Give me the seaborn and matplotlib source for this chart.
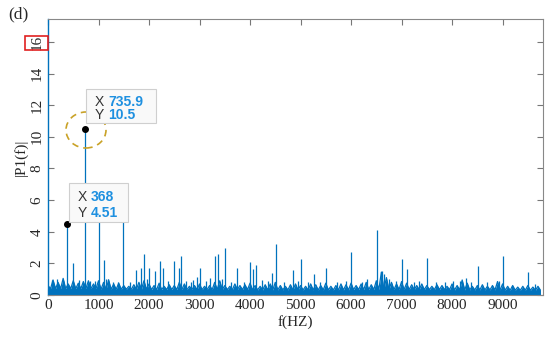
import numpy as np
import seaborn as sns
import matplotlib.pyplot as plt
from matplotlib.patches import Rectangle, Ellipse

# Spectrum
# noise floor: top of the fuzz in each 100 Hz bin, and the solid base level per 1000 Hz
fuzz_top = [
    0.6, 0.95, 0.8, 1.05, 0.7, 0.9, 0.75, 0.85, 0.9, 0.7,
    0.9, 0.8, 0.95, 0.7, 0.75, 0.6, 0.55, 0.65, 0.8, 0.9,
    0.7, 0.6, 0.75, 0.55, 0.65, 0.6, 0.8, 0.7, 0.55, 0.6,
    0.7, 0.55, 0.6, 0.8, 0.9, 0.6, 0.55, 0.7, 0.6, 0.65,
    0.75, 0.6, 0.55, 0.65, 0.7, 0.8, 0.6, 0.55, 0.65, 0.7,
    0.6, 0.55, 0.7, 0.65, 0.6, 0.75, 0.55, 0.6, 0.7, 0.65,
    0.75, 0.6, 0.7, 0.8, 0.65, 0.9, 1.45, 1.1, 0.8, 0.7,
    0.85, 0.75, 0.65, 0.6, 0.7, 0.6, 0.55, 0.65, 0.6, 0.55,
    0.7, 0.6, 0.95, 0.75, 0.55, 0.6, 0.65, 0.55, 0.6, 0.85,
    0.7, 0.55, 0.6, 0.5, 0.55, 0.6, 0.5, 0.55,
]
base_level = [0.4, 0.36, 0.34, 0.34, 0.32, 0.32, 0.34, 0.34, 0.32, 0.3]

# spikes above the floor
peak_freq = [368, 500, 735.9, 1000, 1110, 1180, 1490, 1752, 1850, 1900, 2003, 2115,
             2213, 2270, 2500, 2592, 2642, 2741, 2872, 2951, 3004, 3215, 3316, 3368,
             3508, 3745, 4006, 4058, 4118, 4433, 4506, 4848, 5013, 5263, 5508, 6004,
             6510, 6614, 7009, 7109, 7504, 8010, 8274, 8504, 9006, 9506]
peak_amp = [4.51, 2.0, 10.5, 5.5, 2.2, 1.0, 4.6, 1.6, 1.7, 2.6, 1.7, 1.5,
            2.15, 1.7, 2.15, 1.7, 2.47, 0.9, 0.95, 1.16, 1.7, 1.1, 2.45, 2.6,
            3.0, 1.7, 2.1, 1.65, 1.9, 1.4, 3.2, 1.55, 2.28, 1.3, 1.7, 2.7,
            4.1, 1.5, 2.3, 1.65, 2.36, 0.9, 1.1, 1.86, 2.47, 1.43]

# smaller spikes sticking out of the fuzz
minor_freq = [85, 184, 290, 606, 830, 930, 1146, 1290, 1380, 1620, 1960, 2380,
              2830, 3120, 3450, 3620, 3880, 4240, 4350, 4680, 4950, 5140, 5380,
              5720, 5890, 6218, 6310, 6660, 6745, 6880, 7240, 7350, 7680, 7850,
              8150, 8380, 8700, 8935, 9196, 9650]
minor_amp = [0.95, 1.0, 0.9, 0.95, 0.9, 0.9, 1.0, 0.8, 0.85, 0.8, 1.0, 0.9,
             0.85, 0.9, 1.0, 0.85, 0.8, 0.95, 0.9, 0.85, 0.9, 0.8, 0.85,
             0.8, 0.9, 0.85, 1.0, 1.3, 1.0, 0.9, 0.85, 0.9, 0.8, 0.85,
             0.9, 0.85, 0.8, 0.9, 0.6, 0.7]

tip1 = (735.9, 10.5)
tip2 = (368, 4.51)

blue = "#0072BD"
W, H = 550, 338

sns.set_style("white")
plt.rcParams["font.family"] = ["Liberation Serif", "DejaVu Serif"]

fig = plt.figure(figsize=(W / 100, H / 100), dpi=100)
ax = fig.add_axes([48 / W, 43 / H, 495 / W, 276 / H])

# zig-zag the floor between fuzz tops and the base level
n = len(fuzz_top)
floor_f = np.arange(2 * n) * 50
floor_a = np.empty(2 * n)
floor_a[0::2] = fuzz_top
floor_a[1::2] = np.repeat(base_level, 10)[:n]
ax.fill_between(floor_f, 0, floor_a, color=blue, lw=0)
ax.plot(floor_f, floor_a, color=blue, lw=0.9)
ax.vlines(minor_freq, 0, minor_amp, color=blue, lw=0.9)
ax.vlines(peak_freq, 0, peak_amp, color=blue, lw=0.9)

ax.plot(*tip1, "o", color="black", ms=4, zorder=5)
ax.plot(*tip2, "o", color="black", ms=4, zorder=5)

ax.set_xlim(0, 9800)
ax.set_ylim(0, 17.45)
ax.set_xticks(range(0, 9001, 1000))
ax.set_yticks(range(0, 17, 2))
ax.tick_params(direction="in", length=4, color="#777777", labelsize=11,
               top=True, right=True, bottom=True, left=True, pad=3)
for lab in ax.get_yticklabels():
    lab.set_rotation(90)
    lab.set_va("center")
for s in ["top", "right", "bottom"]:
    ax.spines[s].set_color("#888888")
    ax.spines[s].set_linewidth(0.8)
ax.spines["left"].set_color(blue)
ax.spines["left"].set_linewidth(1.0)

ax.set_xlabel("f(HZ)", fontsize=11, labelpad=2)
ax.set_ylabel("|P1(f)|", fontsize=11, labelpad=2)


def px(x, y):
    return x / W, 1 - y / H


# dashed circle round the 735.9 Hz peak
cx, cy = px(86, 130)
fig.add_artist(Ellipse((cx, cy), 40 / W, 36 / H, fill=False, ec="#C9A227",
                       ls=(0, (4, 3)), lw=1.2, transform=fig.transFigure))


# data tips
def datatip(x0, y0, x1, y1, xv, yv, xl, xt):
    l, b = px(x0, y1)
    fig.add_artist(Rectangle((l, b), (x1 - x0) / W, (y1 - y0) / H, fc="#f9f9f9",
                             ec="#cfcfcf", lw=0.8, transform=fig.transFigure, zorder=6))
    r1 = y0 + (y1 - y0) * 0.37
    r2 = y0 + (y1 - y0) * 0.77
    for row, lab, val in [(r1, "X", xv), (r2, "Y", yv)]:
        fig.text(*px(xl, row), lab, family=["Liberation Sans", "DejaVu Sans"], fontsize=10,
                 color="#333333", ha="center", va="center", zorder=7)
        fig.text(*px(xt, row), val, family=["Liberation Sans", "DejaVu Sans"], fontsize=10,
                 weight="bold", color="#1E90E0", ha="left", va="center", zorder=7)


datatip(86, 89, 156, 123, "735.9", "10.5", 99, 108)
datatip(69, 183, 128, 222, "368", "4.51", 82, 91)

# red box round the 16 tick label
l, b = px(25, 50)
fig.add_artist(Rectangle((l, b), 23 / W, 14 / H, fill=False, ec="#E02020", lw=1.2,
                         transform=fig.transFigure))

fig.text(*px(18, 14), "(d)", fontsize=12.5, ha="center", va="center")

plt.savefig("out.png", dpi=100)
